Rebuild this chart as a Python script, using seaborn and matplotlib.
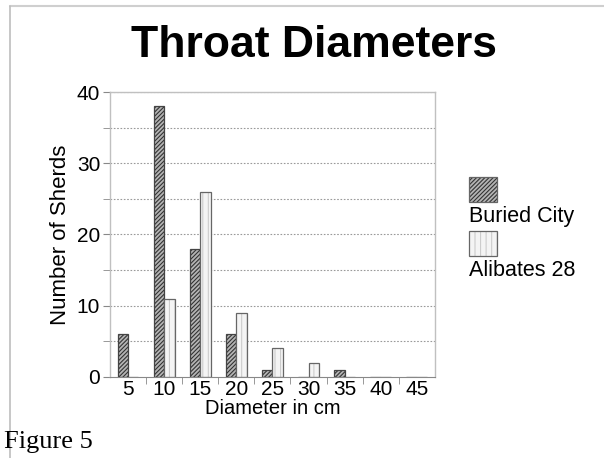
import numpy as np
import pandas as pd
import matplotlib
matplotlib.use("Agg")
import matplotlib.pyplot as plt
import seaborn as sns
from matplotlib.patches import Rectangle
from matplotlib.lines import Line2D

diameters = ["5", "10", "15", "20", "25", "30", "35", "40", "45"]
buried_city = [6, 38, 18, 6, 1, 0, 1, 0, 0]
alibates_28 = [0, 11, 26, 9, 4, 2, 0, 0, 0]
series_names = ["Buried City", "Alibates 28"]

df = pd.DataFrame({
    "diameter": diameters * 2,
    "sherds": buried_city + alibates_28,
    "site": [series_names[0]] * len(diameters) + [series_names[1]] * len(diameters),
})

sns.set_style("white")
plt.rcParams["font.family"] = ["Liberation Sans", "DejaVu Sans"]
plt.rcParams["hatch.linewidth"] = 0.8
plt.rcParams["text.color"] = "black"
plt.rcParams["axes.labelcolor"] = "black"
plt.rcParams["xtick.color"] = "black"
plt.rcParams["ytick.color"] = "black"

fig = plt.figure(figsize=(6.04, 4.58), dpi=100)
ax = fig.add_axes([0.182, 0.177, 0.538, 0.622])

sns.barplot(data=df, x="diameter", y="sherds", hue="site", order=diameters,
            hue_order=series_names, palette=["#b4b4b4", "#f4f4f4"],
            width=0.58, gap=0, legend=False, ax=ax)

hatches = {series_names[0]: "////////", series_names[1]: "|||"}
hatch_colors = {series_names[0]: "#333333", series_names[1]: "#cccccc"}
for cont, name in zip(ax.containers, series_names):
    for bar in cont:
        bar.set_hatch(hatches[name])
        bar.set_edgecolor("#444444" if name == series_names[0] else "#666666")
        bar.set_linewidth(0.9)
        bar._hatch_color = matplotlib.colors.to_rgba(hatch_colors[name])

ax.set_ylim(0, 40)
ax.set_xlim(-0.5, len(diameters) - 0.5)
ax.set_yticks([0, 10, 20, 30, 40])
ax.set_yticks(np.arange(5, 40, 10), minor=True)
for y in range(5, 45, 5):
    ax.axhline(y, color="#9a9a9a", linestyle=(0, (1.5, 1.5)), linewidth=0.8, zorder=0)
ax.set_xticks(range(len(diameters)))
ax.set_xticklabels(diameters)
ax.set_xticks(np.arange(0.5, len(diameters) - 0.5, 1), minor=True)
ax.tick_params(axis="x", which="major", length=0, labelsize=15, pad=2)
ax.tick_params(axis="x", which="minor", length=5, color="#888888", bottom=True)
ax.tick_params(axis="y", which="both", length=5, color="#888888", labelcolor="black",
               labelsize=15, left=True, pad=2)

for side in ["left", "right", "top"]:
    ax.spines[side].set_color("#c0c0c0")
    ax.spines[side].set_linewidth(1)
ax.spines["bottom"].set_color("#888888")

ax.set_xlabel("Diameter in cm", fontsize=14.5, labelpad=0)
ax.set_ylabel("Number of Sherds", fontsize=16, labelpad=4)

fig.text(0.52, 0.9, "Throat Diameters", ha="center", va="center",
         fontsize=32, fontweight="bold")
fig.text(0.007, 0.01, "Figure 5", family=["Liberation Serif", "DejaVu Serif"],
         fontsize=19, ha="left", va="bottom")

# legend: swatch above each label
legend_items = [(series_names[0], "#b4b4b4", "////////", "#333333", 0.558),
                (series_names[1], "#f4f4f4", "|||", "#cccccc", 0.44)]
for name, fc, hatch, hc, ytop in legend_items:
    r = Rectangle((0.776, ytop), 0.047, 0.055, transform=fig.transFigure,
                  facecolor=fc, edgecolor="#666666", hatch=hatch, linewidth=0.9)
    r._hatch_color = matplotlib.colors.to_rgba(hc)
    fig.patches.append(r)
    fig.text(0.776, ytop - 0.008, name, fontsize=15.5, ha="left", va="top")

# page frame lines
fig.add_artist(Line2D([0.017, 1.0], [0.987, 0.987], color="#cfcfcf", linewidth=1.5))
fig.add_artist(Line2D([0.017, 0.017], [0.987, 0.0], color="#bdbdbd", linewidth=1.2))

fig.savefig("out.png", dpi=100)
